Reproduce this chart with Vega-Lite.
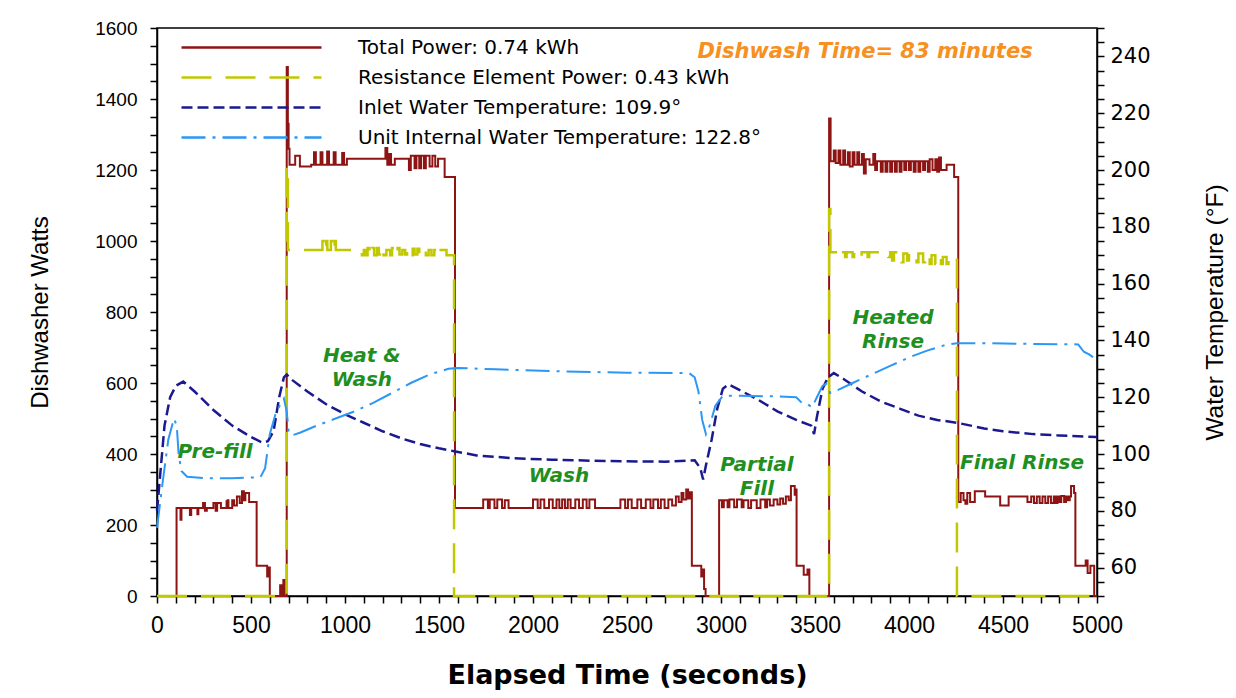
{
 "$schema": "https://vega.github.io/schema/vega-lite/v6.json",
 "width": 940, "height": 568,
 "autosize": {"type": "none"},
 "padding": {"left": 157, "top": 28, "right": 139, "bottom": 102},
 "datasets": {
  "tp": [{"t":0,"v":0},{"t":104,"v":248},{"t":125,"v":215},{"t":130,"v":248},{"t":175,"v":228},{"t":182,"v":248},{"t":215,"v":230},{"t":220,"v":248},{"t":245,"v":262},{"t":255,"v":240},{"t":265,"v":248},{"t":300,"v":262},{"t":312,"v":240},{"t":320,"v":262},{"t":340,"v":248},{"t":370,"v":270},{"t":380,"v":248},{"t":400,"v":270},{"t":410,"v":255},{"t":425,"v":280},{"t":440,"v":262},{"t":452,"v":295},{"t":462,"v":270},{"t":470,"v":290},{"t":490,"v":265},{"t":530,"v":85},{"t":583,"v":85},{"t":586,"v":55},{"t":596,"v":80},{"t":600,"v":0},{"t":655,"v":30},{"t":662,"v":0},{"t":672,"v":45},{"t":678,"v":0},{"t":690,"v":1490},{"t":696,"v":1330},{"t":700,"v":1260},{"t":705,"v":1215},{"t":735,"v":1240},{"t":760,"v":1210},{"t":820,"v":1215},{"t":835,"v":1250},{"t":845,"v":1215},{"t":870,"v":1250},{"t":880,"v":1215},{"t":905,"v":1252},{"t":915,"v":1215},{"t":940,"v":1250},{"t":950,"v":1215},{"t":985,"v":1248},{"t":995,"v":1215},{"t":1010,"v":1232},{"t":1190,"v":1232},{"t":1215,"v":1262},{"t":1225,"v":1215},{"t":1235,"v":1245},{"t":1245,"v":1215},{"t":1265,"v":1232},{"t":1320,"v":1232},{"t":1340,"v":1200},{"t":1350,"v":1240},{"t":1370,"v":1205},{"t":1380,"v":1240},{"t":1395,"v":1205},{"t":1405,"v":1240},{"t":1420,"v":1205},{"t":1430,"v":1240},{"t":1450,"v":1210},{"t":1465,"v":1240},{"t":1480,"v":1210},{"t":1495,"v":1232},{"t":1530,"v":1180},{"t":1585,"v":248},{"t":1720,"v":248},{"t":1735,"v":272},{"t":1760,"v":248},{"t":1770,"v":272},{"t":1795,"v":248},{"t":1810,"v":272},{"t":1835,"v":248},{"t":1850,"v":270},{"t":1870,"v":248},{"t":1990,"v":248},{"t":2000,"v":272},{"t":2025,"v":248},{"t":2040,"v":272},{"t":2060,"v":248},{"t":2085,"v":272},{"t":2105,"v":248},{"t":2125,"v":272},{"t":2140,"v":248},{"t":2155,"v":272},{"t":2170,"v":248},{"t":2185,"v":272},{"t":2200,"v":248},{"t":2225,"v":272},{"t":2245,"v":248},{"t":2265,"v":272},{"t":2285,"v":248},{"t":2300,"v":272},{"t":2330,"v":248},{"t":2455,"v":248},{"t":2465,"v":272},{"t":2490,"v":248},{"t":2505,"v":272},{"t":2525,"v":248},{"t":2555,"v":272},{"t":2575,"v":248},{"t":2600,"v":272},{"t":2625,"v":248},{"t":2640,"v":272},{"t":2665,"v":248},{"t":2680,"v":272},{"t":2700,"v":248},{"t":2720,"v":272},{"t":2740,"v":255},{"t":2760,"v":280},{"t":2775,"v":265},{"t":2790,"v":290},{"t":2800,"v":272},{"t":2815,"v":300},{"t":2825,"v":275},{"t":2835,"v":292},{"t":2845,"v":85},{"t":2890,"v":85},{"t":2895,"v":55},{"t":2905,"v":75},{"t":2910,"v":20},{"t":2918,"v":0},{"t":2990,"v":270},{"t":3005,"v":250},{"t":3015,"v":270},{"t":3035,"v":250},{"t":3045,"v":272},{"t":3070,"v":250},{"t":3085,"v":272},{"t":3110,"v":250},{"t":3120,"v":270},{"t":3145,"v":248},{"t":3160,"v":270},{"t":3190,"v":248},{"t":3210,"v":272},{"t":3235,"v":250},{"t":3245,"v":272},{"t":3260,"v":255},{"t":3280,"v":272},{"t":3300,"v":258},{"t":3315,"v":275},{"t":3330,"v":260},{"t":3345,"v":280},{"t":3360,"v":270},{"t":3372,"v":310},{"t":3392,"v":285},{"t":3398,"v":300},{"t":3402,"v":85},{"t":3430,"v":85},{"t":3440,"v":60},{"t":3460,"v":75},{"t":3470,"v":0},{"t":3575,"v":1345},{"t":3583,"v":1225},{"t":3600,"v":1255},{"t":3610,"v":1220},{"t":3625,"v":1255},{"t":3635,"v":1215},{"t":3650,"v":1255},{"t":3660,"v":1215},{"t":3675,"v":1250},{"t":3685,"v":1210},{"t":3700,"v":1250},{"t":3710,"v":1215},{"t":3725,"v":1250},{"t":3735,"v":1215},{"t":3750,"v":1245},{"t":3760,"v":1190},{"t":3770,"v":1230},{"t":3790,"v":1215},{"t":3810,"v":1245},{"t":3820,"v":1200},{"t":3830,"v":1225},{"t":3850,"v":1195},{"t":3860,"v":1225},{"t":3875,"v":1195},{"t":3885,"v":1225},{"t":3900,"v":1195},{"t":3910,"v":1225},{"t":3925,"v":1195},{"t":3935,"v":1225},{"t":3950,"v":1195},{"t":3960,"v":1225},{"t":3975,"v":1200},{"t":3985,"v":1225},{"t":4000,"v":1200},{"t":4010,"v":1225},{"t":4025,"v":1195},{"t":4035,"v":1225},{"t":4050,"v":1195},{"t":4060,"v":1225},{"t":4075,"v":1200},{"t":4085,"v":1225},{"t":4100,"v":1195},{"t":4110,"v":1230},{"t":4125,"v":1200},{"t":4140,"v":1230},{"t":4150,"v":1195},{"t":4160,"v":1235},{"t":4170,"v":1200},{"t":4200,"v":1215},{"t":4240,"v":1180},{"t":4262,"v":265},{"t":4275,"v":290},{"t":4290,"v":270},{"t":4300,"v":260},{"t":4310,"v":290},{"t":4325,"v":265},{"t":4350,"v":295},{"t":4405,"v":280},{"t":4485,"v":255},{"t":4530,"v":280},{"t":4620,"v":280},{"t":4630,"v":265},{"t":4650,"v":280},{"t":4665,"v":262},{"t":4680,"v":280},{"t":4695,"v":262},{"t":4710,"v":280},{"t":4725,"v":262},{"t":4740,"v":280},{"t":4755,"v":262},{"t":4770,"v":280},{"t":4780,"v":262},{"t":4790,"v":280},{"t":4800,"v":265},{"t":4810,"v":282},{"t":4825,"v":265},{"t":4835,"v":280},{"t":4845,"v":270},{"t":4855,"v":280},{"t":4862,"v":310},{"t":4878,"v":290},{"t":4885,"v":85},{"t":4935,"v":85},{"t":4940,"v":100},{"t":4950,"v":65},{"t":4965,"v":85},{"t":4985,"v":0},{"t":5000,"v":0}],
  "re": [{"t":0,"v":0},{"t":690,"v":1210},{"t":696,"v":975},{"t":870,"v":975},{"t":880,"v":1000},{"t":886,"v":975},{"t":900,"v":1000},{"t":906,"v":975},{"t":925,"v":1000},{"t":931,"v":975},{"t":945,"v":1000},{"t":951,"v":975},{"t":1080,"v":975},{"t":1090,"v":960},{"t":1100,"v":975},{"t":1110,"v":960},{"t":1120,"v":980},{"t":1130,"v":960},{"t":1145,"v":980},{"t":1155,"v":960},{"t":1170,"v":980},{"t":1180,"v":962},{"t":1195,"v":980},{"t":1205,"v":960},{"t":1220,"v":975},{"t":1240,"v":960},{"t":1250,"v":980},{"t":1265,"v":962},{"t":1280,"v":980},{"t":1290,"v":962},{"t":1305,"v":975},{"t":1320,"v":962},{"t":1330,"v":978},{"t":1345,"v":960},{"t":1360,"v":978},{"t":1370,"v":962},{"t":1385,"v":978},{"t":1395,"v":962},{"t":1410,"v":975},{"t":1430,"v":960},{"t":1445,"v":975},{"t":1460,"v":960},{"t":1475,"v":975},{"t":1490,"v":960},{"t":1500,"v":975},{"t":1540,"v":960},{"t":1580,"v":0},{"t":3575,"v":1090},{"t":3582,"v":968},{"t":3620,"v":955},{"t":3628,"v":968},{"t":3660,"v":955},{"t":3668,"v":968},{"t":3700,"v":955},{"t":3708,"v":968},{"t":3740,"v":955},{"t":3748,"v":968},{"t":3780,"v":955},{"t":3788,"v":968},{"t":3880,"v":968},{"t":3890,"v":955},{"t":3900,"v":968},{"t":3910,"v":945},{"t":3920,"v":968},{"t":3940,"v":960},{"t":3960,"v":940},{"t":3970,"v":965},{"t":3990,"v":945},{"t":4000,"v":965},{"t":4040,"v":940},{"t":4050,"v":965},{"t":4075,"v":940},{"t":4085,"v":960},{"t":4110,"v":935},{"t":4120,"v":960},{"t":4140,"v":935},{"t":4150,"v":955},{"t":4170,"v":935},{"t":4180,"v":955},{"t":4200,"v":935},{"t":4210,"v":955},{"t":4255,"v":0},{"t":5000,"v":0}],
  "inlet": [{"t":0,"v":80},{"t":20,"v":95},{"t":40,"v":110},{"t":70,"v":120},{"t":100,"v":124},{"t":140,"v":125.5},{"t":200,"v":122},{"t":300,"v":115.5},{"t":400,"v":110},{"t":500,"v":106},{"t":560,"v":104},{"t":590,"v":104.5},{"t":620,"v":108},{"t":650,"v":120},{"t":675,"v":127},{"t":690,"v":128},{"t":720,"v":126},{"t":800,"v":122},{"t":900,"v":117.5},{"t":1000,"v":114},{"t":1100,"v":111},{"t":1200,"v":108},{"t":1300,"v":105.5},{"t":1400,"v":103.5},{"t":1500,"v":102},{"t":1580,"v":101},{"t":1700,"v":99.5},{"t":1900,"v":98.5},{"t":2100,"v":98},{"t":2400,"v":97.5},{"t":2700,"v":97.3},{"t":2860,"v":97.8},{"t":2890,"v":95},{"t":2905,"v":91},{"t":2920,"v":96},{"t":2950,"v":105},{"t":2980,"v":116},{"t":3010,"v":123},{"t":3040,"v":124.5},{"t":3100,"v":122.5},{"t":3200,"v":119},{"t":3300,"v":115},{"t":3400,"v":112},{"t":3480,"v":110},{"t":3495,"v":107},{"t":3510,"v":113},{"t":3540,"v":123},{"t":3570,"v":127},{"t":3600,"v":128.5},{"t":3650,"v":126.5},{"t":3750,"v":122},{"t":3850,"v":118.5},{"t":3950,"v":116},{"t":4050,"v":113.5},{"t":4150,"v":112},{"t":4255,"v":111},{"t":4400,"v":109},{"t":4500,"v":108},{"t":4660,"v":107},{"t":4800,"v":106.5},{"t":5000,"v":106}],
  "unit": [{"t":0,"v":74},{"t":30,"v":90},{"t":60,"v":105},{"t":90,"v":112.5},{"t":105,"v":110},{"t":115,"v":100},{"t":130,"v":94},{"t":160,"v":92},{"t":250,"v":91.5},{"t":400,"v":91.5},{"t":550,"v":91.8},{"t":575,"v":95},{"t":600,"v":107},{"t":630,"v":114},{"t":660,"v":118},{"t":675,"v":119.5},{"t":690,"v":115},{"t":700,"v":108},{"t":715,"v":106.5},{"t":760,"v":107.5},{"t":850,"v":110},{"t":950,"v":112.5},{"t":1050,"v":115},{"t":1150,"v":118},{"t":1250,"v":121.5},{"t":1350,"v":125},{"t":1450,"v":128},{"t":1550,"v":130},{"t":1600,"v":130.3},{"t":1800,"v":129.8},{"t":2100,"v":129.2},{"t":2500,"v":128.6},{"t":2830,"v":128.5},{"t":2860,"v":127},{"t":2880,"v":122},{"t":2900,"v":112},{"t":2920,"v":107},{"t":2940,"v":110},{"t":2970,"v":117},{"t":3010,"v":120.5},{"t":3100,"v":120.5},{"t":3300,"v":120.3},{"t":3400,"v":120},{"t":3430,"v":118},{"t":3460,"v":117.5},{"t":3485,"v":116.5},{"t":3510,"v":120},{"t":3540,"v":124},{"t":3560,"v":124.8},{"t":3580,"v":121.5},{"t":3620,"v":122.5},{"t":3700,"v":125},{"t":3800,"v":128},{"t":3900,"v":131},{"t":4000,"v":134},{"t":4100,"v":136.5},{"t":4200,"v":138.5},{"t":4255,"v":139},{"t":4400,"v":139},{"t":4600,"v":138.8},{"t":4900,"v":138.6},{"t":4930,"v":136},{"t":4960,"v":135},{"t":5000,"v":133}],
  "notes": [{"t":309,"v":406,"label":"Pre-fill"},{"t":1090,"v":675,"label":"Heat &\nWash"},{"t":2138,"v":338,"label":"Wash"},{"t":3191,"v":369,"label":"Partial\nFill"},{"t":3915,"v":783,"label":"Heated\nRinse"},{"t":4601,"v":375,"label":"Final Rinse"}],
  "headline": [{"t":3766,"v":1532,"label":"Dishwash Time= 83 minutes"}]
 },
 "encoding": {
  "x": {"field": "t", "type": "quantitative", "scale": {"domain": [0, 5000], "nice": false},
   "axis": {"values": [0,100,200,300,400,500,600,700,800,900,1000,1100,1200,1300,1400,1500,1600,1700,1800,1900,2000,2100,2200,2300,2400,2500,2600,2700,2800,2900,3000,3100,3200,3300,3400,3500,3600,3700,3800,3900,4000,4100,4200,4300,4400,4500,4600,4700,4800,4900,5000],
    "labelExpr": "datum.value % 500 === 0 ? datum.label : ''", "format": "d",
    "grid": false, "domainColor": "black", "domainWidth": 1.5, "ticks": true, "tickSize": 7, "tickColor": "#000000", "tickWidth": 1.5,
    "labelFont": "Liberation Sans", "labelFontSize": 23, "labelColor": "black", "labelPadding": 11, "labelFlush": false, "labelOverlap": false,
    "title": "Elapsed Time (seconds)", "titleFont": "DejaVu Sans", "titleFontWeight": "bold", "titleFontSize": 27, "titleColor": "black",
    "titleX": 470, "titleY": 79, "titleBaseline": "middle", "titleAlign": "center"}}
 },
 "layer": [
  {
   "encoding": {"y": {"field": "v", "type": "quantitative", "scale": {"domain": [0, 1600], "nice": false},
    "axis": {"values": [0,50,100,150,200,250,300,350,400,450,500,550,600,650,700,750,800,850,900,950,1000,1050,1100,1150,1200,1250,1300,1350,1400,1450,1500,1550,1600],
     "labelExpr": "datum.value % 200 === 0 ? datum.label : ''", "format": "d",
     "grid": false, "domainColor": "black", "domainWidth": 1.5, "ticks": true, "tickColor": "#000000", "tickWidth": 1.5, "tickSize": 7,
     "labelFont": "Liberation Sans", "labelFontSize": 19, "labelColor": "black", "labelPadding": 13, "labelOverlap": false,
     "title": "Dishwasher Watts", "titleFont": "Liberation Sans", "titleFontSize": 24, "titleFontWeight": "normal", "titleColor": "black",
     "titleX": -117, "titleY": 284, "titleAngle": -90, "titleAlign": "center", "titleBaseline": "middle"}}},
   "layer": [
    {"data": {"name": "tp"}, "mark": {"type": "line", "interpolate": "step-after", "strokeWidth": 2},
     "encoding": {
      "color": {"datum": "Total Power: 0.74 kWh", "type": "nominal",
       "scale": {"domain": ["Total Power: 0.74 kWh", "Resistance Element Power: 0.43 kWh", "Inlet Water Temperature: 109.9°", "Unit Internal Water Temperature: 122.8°"], "range": ["#8E1414", "#C2C800", "#1A1A8E", "#2C97F5"]}},
      "strokeDash": {"datum": "Total Power: 0.74 kWh", "type": "nominal",
       "scale": {"domain": ["Total Power: 0.74 kWh", "Resistance Element Power: 0.43 kWh", "Inlet Water Temperature: 109.9°", "Unit Internal Water Temperature: 122.8°"], "range": [[1, 0], [30, 14], [11, 5], [24, 7, 3, 7]]}}}},
    {"data": {"name": "re"}, "mark": {"type": "line", "interpolate": "step-after", "strokeWidth": 2.5},
     "encoding": {"color": {"datum": "Resistance Element Power: 0.43 kWh", "type": "nominal"}, "strokeDash": {"datum": "Resistance Element Power: 0.43 kWh", "type": "nominal"}}},
    {"data": {"name": "notes"}, "mark": {"type": "text", "font": "DejaVu Sans", "fontSize": 20, "fontWeight": "bold", "fontStyle": "italic", "color": "#1F8F1F", "lineBreak": "\n", "lineHeight": 24, "align": "center", "baseline": "middle"},
     "encoding": {"text": {"field": "label"}}},
    {"data": {"name": "headline"}, "mark": {"type": "text", "font": "DejaVu Sans", "fontSize": 21, "fontWeight": "bold", "fontStyle": "italic", "color": "#F7901E", "align": "center", "baseline": "middle"},
     "encoding": {"text": {"field": "label"}}}
   ]
  },
  {
   "encoding": {"y": {"field": "v", "type": "quantitative", "scale": {"domain": [50, 250], "nice": false},
    "axis": {"orient": "right", "values": [50,55,60,65,70,75,80,85,90,95,100,105,110,115,120,125,130,135,140,145,150,155,160,165,170,175,180,185,190,195,200,205,210,215,220,225,230,235,240,245,250],
     "labelExpr": "datum.value % 20 === 0 ? datum.label : ''", "format": "d",
     "grid": false, "domainColor": "black", "domainWidth": 1.5, "ticks": true, "tickColor": "#000000", "tickWidth": 1.5, "tickSize": 7,
     "labelFont": "DejaVu Sans", "labelFontSize": 21, "labelColor": "black", "labelPadding": 6, "labelOverlap": false,
     "title": "Water Temperature (°F)", "titleFont": "Liberation Sans", "titleFontSize": 24.5, "titleFontWeight": "normal", "titleColor": "black",
     "titleX": 118, "titleY": 284, "titleAngle": -90, "titleAlign": "center", "titleBaseline": "middle"}}},
   "layer": [
    {"data": {"name": "inlet"}, "mark": {"type": "line", "strokeWidth": 2.5},
     "encoding": {"color": {"datum": "Inlet Water Temperature: 109.9°", "type": "nominal"}, "strokeDash": {"datum": "Inlet Water Temperature: 109.9°", "type": "nominal"}}},
    {"data": {"name": "unit"}, "mark": {"type": "line", "strokeWidth": 2},
     "encoding": {"color": {"datum": "Unit Internal Water Temperature: 122.8°", "type": "nominal"}, "strokeDash": {"datum": "Unit Internal Water Temperature: 122.8°", "type": "nominal"}}}
   ]
  }
 ],
 "resolve": {"scale": {"y": "independent"}},
 "config": {
  "view": {"stroke": "black", "strokeWidth": 1.5},
  "font": "Liberation Sans",
  "legend": {"orient": "none", "legendX": 83, "legendY": 8, "title": null, "padding": 0,
   "symbolType": "M-7,0H7", "symbolSize": 400, "symbolStrokeWidth": 2.5, "labelOffset": 95,
   "labelFont": "DejaVu Sans", "labelFontSize": 20, "labelColor": "black", "rowPadding": 8, "labelLimit": 600}
 }
}
